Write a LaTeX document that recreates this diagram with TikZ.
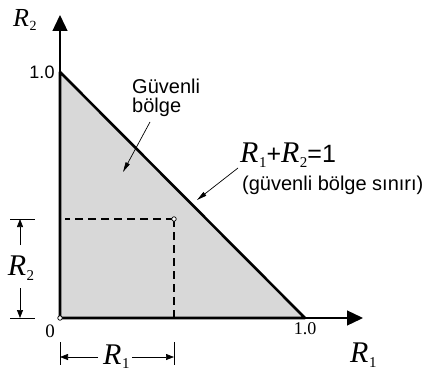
\documentclass[tikz,border=0pt]{standalone}
\usepackage{fontspec}
\setmainfont{Liberation Sans}
\newfontfamily\ser{Liberation Serif}
\usetikzlibrary{arrows.meta}
\definecolor{regionfill}{RGB}{216,216,216}
\newcommand{\Rsym}[4]{{\fontsize{#1}{#1}\selectfont\ser\itshape R}\kern0.5pt\raisebox{-#3}{\fontsize{#2}{#2}\selectfont\ser #4}}
\begin{document}
\begin{tikzpicture}[x=1pt,y=-1pt,
  bound/.style={line width=2.6pt, line join=round},
  axisline/.style={line width=1.3pt, -{Triangle[length=16pt,width=15pt]}},
  dashline/.style={line width=1.5pt, dash pattern=on 8pt off 5pt},
  leader/.style={line width=0.7pt, -{Triangle[length=10pt,width=4.5pt]}},
  dimarrow/.style={line width=0.7pt, -{Triangle[length=8pt,width=6pt]}},
  extline/.style={line width=0.7pt},
  dot/.style={circle, draw, fill=white, inner sep=0pt, minimum size=4.5pt, line width=0.7pt},
  lbl/.style={inner sep=0pt, font=\fontsize{20}{20}\selectfont},
  numlbl/.style={inner sep=0pt, font=\fontsize{18}{18}\selectfont},
  rlbl/.style={inner sep=0pt}]
\useasboundingbox (0,0) rectangle (425,369);
% key points
\coordinate (O) at (60,318);
\coordinate (A) at (60,72);
\coordinate (B) at (305,318);
\coordinate (P) at (174,219);
\coordinate (Ytip) at (60,15);
\coordinate (Xtip) at (363,318);
\coordinate (Pl) at (65,219);
\coordinate (Pd) at (174,318);
% region
\fill[regionfill] (O) -- (A) -- (B) -- cycle;
% axes
\draw[axisline] (O) -- (Ytip);
\draw[axisline] (O) -- (Xtip);
\draw[bound] (O) -- (A) -- (B) -- cycle;
% dashed lines
\draw[dashline] (P) -- (Pl);
\draw[dashline] (P) -- (Pd);
\node[dot] (Pc) at (P) {};
\node[dot] (Oc) at (O) {};
% axis labels
\node[rlbl, anchor=base west] (r2ax) at (13,27) {\Rsym{26}{14}{3.5pt}{2}};
\node[rlbl, anchor=base west] (r1ax) at (350,362) {\Rsym{30}{15}{5pt}{1}};
\node[numlbl] (y1) at (42,72) {1.0};
\node[numlbl, font=\fontsize{18}{18}\selectfont\ser] (x1) at (305,329) {1.0};
\node[numlbl, font=\fontsize{19}{19}\selectfont\ser] (zero) at (50,331) {0};
% region label
\node[lbl, anchor=base west] (g1) at (132,93) {Güvenli};
\node[lbl, anchor=base west] (g2) at (132,112) {bölge};
\coordinate (ga) at (150,122);
\coordinate (gb) at (123,172);
\draw[leader] (ga) -- (gb);
% boundary label
\node[rlbl, anchor=base west] (eq) at (240,162) {\Rsym{30}{15}{5pt}{1}{\fontsize{25}{25}\selectfont +}\Rsym{30}{15}{5pt}{2}{\fontsize{25}{25}\selectfont =1}};
\node[lbl, anchor=base west] (sinir) at (242,190) {(güvenli bölge sınırı)};
\coordinate (ea) at (238,168);
\coordinate (eb) at (197,200);
\draw[leader] (ea) -- (eb);
% R2 dimension
\coordinate (e2a) at (10,219);
\coordinate (e2b) at (35,219);
\coordinate (e2c) at (10,318);
\coordinate (e2d) at (35,318);
\draw[extline] (e2a) -- (e2b);
\draw[extline] (e2c) -- (e2d);
\node[rlbl] (r2d) at (21,268) {\Rsym{30}{15}{5pt}{2}};
\coordinate (d2t) at (20,245);
\coordinate (d2b) at (20,288);
\coordinate (d2top) at (20,219);
\coordinate (d2bot) at (20,318);
\draw[dimarrow] (d2t) -- (d2top);
\draw[dimarrow] (d2b) -- (d2bot);
% R1 dimension
\coordinate (e1a) at (60,342);
\coordinate (e1b) at (60,365);
\coordinate (e1c) at (174,342);
\coordinate (e1d) at (174,365);
\draw[extline] (e1a) -- (e1b);
\draw[extline] (e1c) -- (e1d);
\node[rlbl, anchor=base west] (r1d) at (103,364) {\Rsym{30}{15}{4pt}{1}};
\coordinate (d1l) at (98,357);
\coordinate (d1r) at (132,357);
\coordinate (d1left) at (60,357);
\coordinate (d1right) at (174,357);
\draw[dimarrow] (d1l) -- (d1left);
\draw[dimarrow] (d1r) -- (d1right);
\end{tikzpicture}
\end{document}
